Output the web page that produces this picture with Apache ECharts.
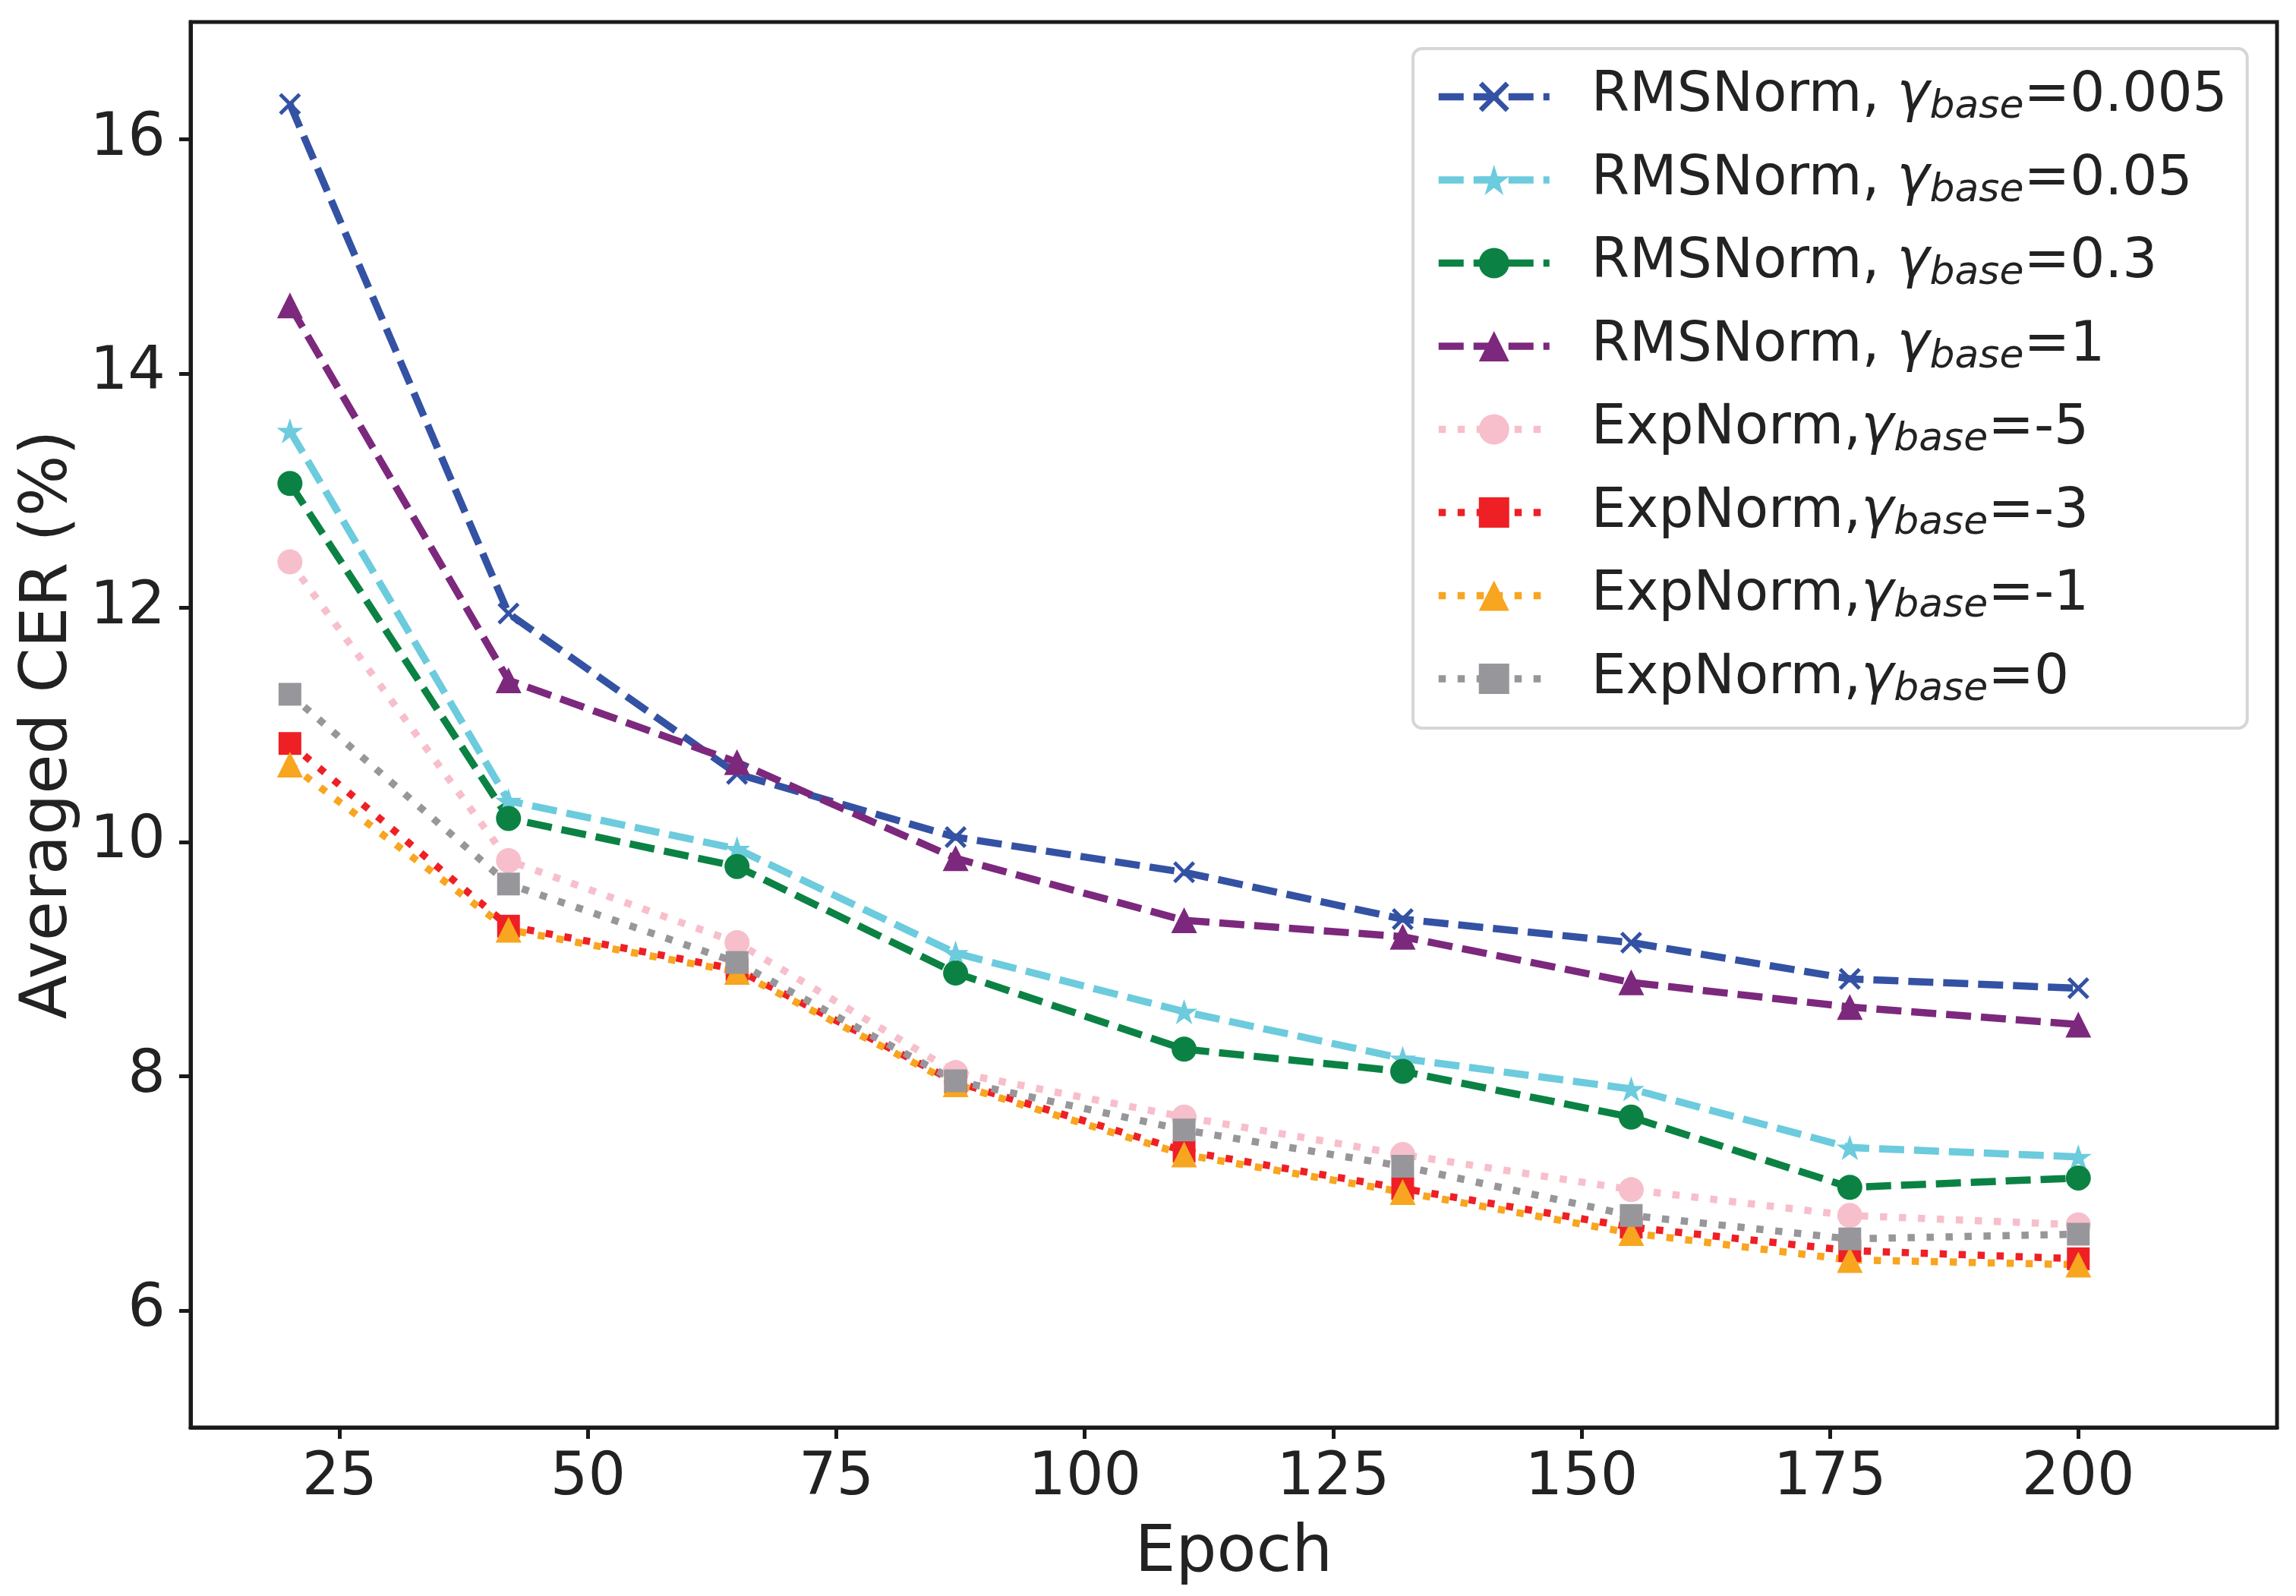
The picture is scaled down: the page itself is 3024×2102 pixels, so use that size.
<!DOCTYPE html>
<html>
<head>
<meta charset="utf-8">
<script src="https://cdn.jsdelivr.net/npm/echarts@6/dist/echarts.min.js"></script>
<style>
html,body{margin:0;padding:0;background:#fff;}
#chart{width:3024px;height:2102px;}
</style>
</head>
<body>
<div id="chart"></div>
<script>
// ---- data ----
const epochs = [20, 42, 65, 87, 110, 132, 155, 177, 200];
const rms0005 = [16.30, 11.95, 10.58, 10.04, 9.74, 9.34, 9.14, 8.83, 8.75];
const rms005  = [13.51, 10.35, 9.94, 9.05, 8.55, 8.15, 7.89, 7.39, 7.31];
const rms03   = [13.06, 10.20, 9.79, 8.88, 8.23, 8.04, 7.65, 7.05, 7.13];
const rms1    = [14.58, 11.38, 10.68, 9.86, 9.33, 9.19, 8.80, 8.59, 8.44];
const expM5   = [12.39, 9.84, 9.14, 8.03, 7.65, 7.33, 7.03, 6.81, 6.73];
const expM3   = [10.84, 9.28, 8.91, 7.95, 7.36, 7.04, 6.71, 6.51, 6.44];
const expM1   = [10.66, 9.25, 8.89, 7.93, 7.33, 7.01, 6.66, 6.43, 6.39];
const exp0    = [11.26, 9.64, 8.97, 7.96, 7.54, 7.23, 6.81, 6.61, 6.65];

const namePrefixes = ['RMSNorm, ', 'RMSNorm, ', 'RMSNorm, ', 'RMSNorm, ', 'ExpNorm,', 'ExpNorm,', 'ExpNorm,', 'ExpNorm,'];
const gammaValues = ['0.005', '0.05', '0.3', '1', '-5', '-3', '-1', '0'];
const xTicks = [25, 50, 75, 100, 125, 150, 175, 200];
const yTicks = [6, 8, 10, 12, 14, 16];

// ---- styles ----
const allValues = [rms0005, rms005, rms03, rms1, expM5, expM3, expM1, exp0];
const colors = ['#3452A3', '#6CCBDD', '#0B8243', '#7C287D', '#F7BFCB', '#EE2025', '#F8A51F', '#97979B'];
const XSYM = 'path://M12,0 L50,38 L88,0 L100,12 L62,50 L100,88 L88,100 L50,62 L12,100 L0,88 L38,50 L0,12 Z';
const STAR = 'path://M50,0 L61.23,34.55 L97.55,34.55 L68.17,55.9 L79.39,90.45 L50,69.1 L20.61,90.45 L31.83,55.9 L2.45,34.55 L38.77,34.55 Z';
const symbols = [XSYM, STAR, 'circle', 'triangle', 'circle', 'rect', 'triangle', 'rect'];
const symSizes = [29, 35, 33, 34, 33, 30, 34, 30];
const DASH = [33, 13];
const DOT = [9.5, 15.5];
const lineTypes = [DASH, DASH, DASH, DASH, DOT, DOT, DOT, DOT];
const FONT = 'DejaVu Sans';
const TXT = '#222222';

const names = namePrefixes.map((p, i) => p + 'γbase=' + gammaValues[i]);

const series = allValues.map((vals, i) => ({
  name: names[i],
  type: 'line',
  data: epochs.map((e, j) => [e, vals[j]]),
  symbol: symbols[i],
  symbolSize: symSizes[i],
  showSymbol: true,
  symbolKeepAspect: true,
  itemStyle: { color: colors[i], borderWidth: 0 },
  lineStyle: { color: colors[i], width: 9.5, type: lineTypes[i], cap: 'butt', join: 'miter' },
  emphasis: { disabled: true },
  z: 2
}));

const chart = echarts.init(document.getElementById('chart'), null, { renderer: 'canvas' });
chart.setOption({
  animation: false,
  backgroundColor: '#ffffff',
  grid: {
    left: 251, top: 29, right: 25, bottom: 222,
    show: true, borderColor: '#1a1a1a', borderWidth: 5, backgroundColor: 'transparent'
  },
  xAxis: {
    type: 'value', min: 10, max: 220,
    name: 'Epoch', nameLocation: 'middle', nameGap: 124,
    nameTextStyle: { fontFamily: FONT, fontSize: 85, color: TXT },
    axisLine: { show: true, lineStyle: { color: '#1a1a1a', width: 5 } },
    axisTick: { show: true, customValues: xTicks, length: 15, inside: false, lineStyle: { color: '#1a1a1a', width: 5 } },
    axisLabel: { customValues: xTicks, fontFamily: FONT, fontSize: 78, color: TXT, margin: 29 },
    splitLine: { show: false }
  },
  yAxis: {
    type: 'value', min: 5, max: 17,
    name: 'Averaged CER (%)', nameLocation: 'middle', nameGap: 118,
    nameTextStyle: { fontFamily: FONT, fontSize: 85, color: TXT },
    axisLine: { show: true, lineStyle: { color: '#1a1a1a', width: 5 } },
    axisTick: { show: true, customValues: yTicks, length: 15, inside: false, lineStyle: { color: '#1a1a1a', width: 5 } },
    axisLabel: { customValues: yTicks, fontFamily: FONT, fontSize: 78, color: TXT, margin: 33 },
    splitLine: { show: false }
  },
  legend: {
    orient: 'vertical',
    left: 1861, top: 64,
    padding: [27, 26, 25, 29],
    itemGap: 33,
    itemWidth: 146,
    itemHeight: 50,
    align: 'left',
    backgroundColor: 'rgba(255,255,255,0.85)',
    borderColor: '#d6d6d6',
    borderWidth: 4,
    borderRadius: 12,
    data: names,
    lineStyle: { width: 9.5, cap: 'butt' },
    formatter: function (name) {
      const parts = name.split('γbase=');
      return '{sp| }{t|' + parts[0] + '}{g|γ}{s|base}{t|=' + parts[1] + '}';
    },
    textStyle: {
      fontFamily: FONT, fontSize: 72.5, color: TXT,
      rich: {
        sp: { width: 50, fontSize: 72.5, lineHeight: 80 },
        t: { fontFamily: FONT, fontSize: 72.5, color: TXT, lineHeight: 80 },
        g: { fontFamily: FONT, fontSize: 72.5, fontStyle: 'italic', color: TXT, lineHeight: 80 },
        s: { fontFamily: FONT, fontSize: 52, fontStyle: 'italic', color: TXT, lineHeight: 45, verticalAlign: 'bottom' }
      }
    }
  },
  series: series
});
</script>
</body>
</html>
